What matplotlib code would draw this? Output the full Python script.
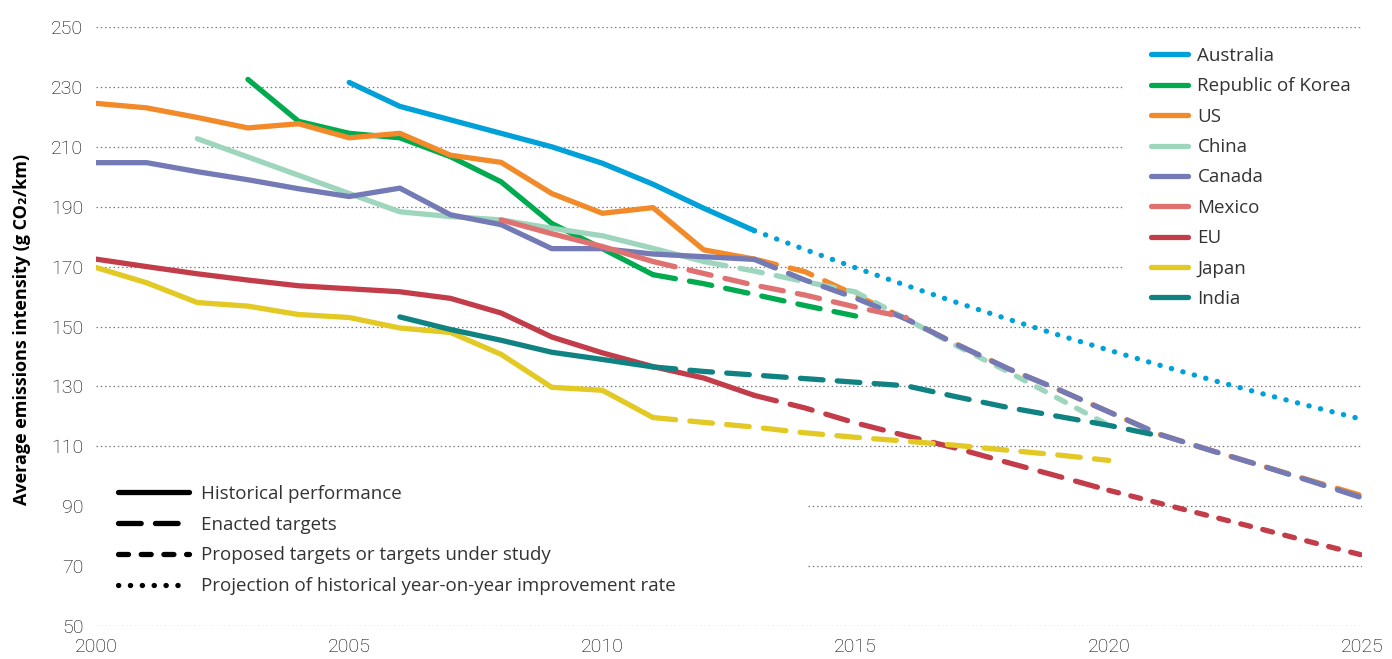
import matplotlib
matplotlib.use("Agg")
import matplotlib.pyplot as plt
from matplotlib.lines import Line2D

# ---------------- data ----------------
aus_hist_years = list(range(2005, 2014))
aus_hist = [231.5, 223.5, 219, 214.5, 210, 204.5, 197.5, 189.5, 182]
aus_proj_years = list(range(2013, 2026))
aus_proj = [182, 175.7, 169.6, 163.7, 158.0, 152.5, 147.2, 142.1, 137.1, 132.3, 127.7, 123.3, 119.0]

kor_hist_years = list(range(2003, 2012))
kor_hist = [232.5, 218.5, 214.5, 213, 206.7, 198.3, 184.4, 176, 167.3]
kor_enacted_years = list(range(2011, 2016))
kor_enacted = [167.3, 164.3, 160.7, 157, 153.5]

us_hist_years = list(range(2000, 2014))
us_hist = [224.5, 223, 219.8, 216.3, 217.7, 213, 214.5, 207.2, 204.8, 194.4, 187.8, 189.7, 175.6, 172.5]
us_enacted_years = list(range(2013, 2026))
us_enacted = [172.5, 168.3, 160.5, 152.5, 144, 136, 129, 121.5, 114, 108.7, 103.6, 98.5, 93.5]

chn_hist_years = list(range(2002, 2013))
chn_hist = [212.7, 206.6, 200.5, 194.4, 188.3, 186.7, 185.6, 182.8, 180.3, 176.1, 171.7]
chn_enacted_years = list(range(2012, 2016))
chn_enacted = [171.7, 168.5, 165, 161.5]
chn_proposed_years = list(range(2015, 2021))
chn_proposed = [161.5, 152.5, 143.5, 135, 126, 117]

can_hist_years = list(range(2000, 2014))
can_hist = [204.7, 204.7, 201.7, 199, 196, 193.4, 196.2, 187.3, 184, 176, 176, 174.2, 173.3, 172.4]
can_enacted_years = list(range(2013, 2026))
can_enacted = [172.4, 165.5, 159.5, 152.5, 144, 136, 129, 121.5, 114, 108.7, 103.6, 98.3, 92.8]

mex_hist_years = list(range(2008, 2012))
mex_hist = [185.6, 181, 176.7, 171.7]
mex_enacted_years = list(range(2011, 2017))
mex_enacted = [171.7, 167.7, 163.8, 160.5, 156.5, 153]

eu_hist_years = list(range(2000, 2014))
eu_hist = [172.5, 170, 167.6, 165.5, 163.6, 162.6, 161.6, 159.4, 154.5, 146.5, 141.2, 136.6, 132.8, 127]
eu_enacted_years = list(range(2013, 2021))
eu_enacted = [127, 122.8, 117.8, 113.5, 109.3, 104.6, 100, 95.3]
eu_proposed_years = list(range(2020, 2026))
eu_proposed = [95.3, 91, 86.7, 82.4, 78, 73.7]

jpn_hist_years = list(range(2000, 2012))
jpn_hist = [169.7, 164.6, 158, 156.8, 154, 153, 149.5, 148, 140.7, 129.7, 128.7, 119.6]
jpn_enacted_years = list(range(2011, 2021))
jpn_enacted = [119.6, 118, 116.4, 114.5, 113, 111.7, 110.3, 108.7, 107.1, 105.3]

ind_hist_years = list(range(2006, 2012))
ind_hist = [153.2, 149, 145.4, 141.4, 139, 136.5]
ind_enacted_years = list(range(2011, 2022))
ind_enacted = [136.5, 135, 133.8, 132.6, 131.4, 130.2, 126.5, 123, 120, 117, 113.5]

countries = ["Australia", "Republic of Korea", "US", "China", "Canada",
             "Mexico", "EU", "Japan", "India"]
colors = ["#00a0d8", "#00aa4f", "#f28a2a", "#9dd6bc", "#737ab6",
          "#e07171", "#c23c4a", "#e2c923", "#118282"]

style_labels = ["Historical performance", "Enacted targets",
                "Proposed targets or targets under study",
                "Projection of historical year-on-year improvement rate"]

x_ticks = [2000, 2005, 2010, 2015, 2020, 2025]
y_ticks = list(range(50, 251, 20))

# ---------------- styles ----------------
LW = 3.8
SOLID = "-"
ENACTED = (0, (4.3, 2.7))
PROPOSED = (0, (1.9, 2.4))
DOTTED = (0, (0.05, 2.2))
styles = [SOLID, ENACTED, PROPOSED, DOTTED]

series = [
    [(aus_hist_years, aus_hist, SOLID), (aus_proj_years, aus_proj, DOTTED)],
    [(kor_hist_years, kor_hist, SOLID), (kor_enacted_years, kor_enacted, ENACTED)],
    [(us_hist_years, us_hist, SOLID), (us_enacted_years, us_enacted, ENACTED)],
    [(chn_hist_years, chn_hist, SOLID), (chn_enacted_years, chn_enacted, ENACTED),
     (chn_proposed_years, chn_proposed, PROPOSED)],
    [(can_hist_years, can_hist, SOLID), (can_enacted_years, can_enacted, ENACTED)],
    [(mex_hist_years, mex_hist, SOLID), (mex_enacted_years, mex_enacted, ENACTED)],
    [(eu_hist_years, eu_hist, SOLID), (eu_enacted_years, eu_enacted, ENACTED),
     (eu_proposed_years, eu_proposed, PROPOSED)],
    [(jpn_hist_years, jpn_hist, SOLID), (jpn_enacted_years, jpn_enacted, ENACTED)],
    [(ind_hist_years, ind_hist, SOLID), (ind_enacted_years, ind_enacted, ENACTED)],
]

W, H = 1392, 659
fig = plt.figure(figsize=(W / 100, H / 100), dpi=100)
ax = fig.add_axes([96 / W, 1 - 626 / H, 1266 / W, 599 / H])
ax.set_xlim(2000, 2025)
ax.set_ylim(50, 250)
for s in ax.spines.values():
    s.set_visible(False)

TICK_FONT = "Roboto"
ax.set_xticks(x_ticks)
ax.set_yticks(y_ticks)
ax.tick_params(length=0, labelsize=14, colors="#000000")
ax.tick_params(axis="x", pad=9)
ax.tick_params(axis="y", pad=9)
for lab in ax.get_xticklabels() + ax.get_yticklabels():
    lab.set_fontfamily(TICK_FONT)
    lab.set_fontweight("light")

# gridlines (hidden where legends sit)
for y in y_ticks:
    xmin, xmax = 0.0, 1.0
    if 170 <= y <= 230:
        xmax = (1122 - 96) / 1266
    if y in (70, 90):
        xmin = (808 - 96) / 1266
    ax.axhline(y, xmin=xmin, xmax=xmax, color="#7a7a7a", lw=0.9,
               ls=(0, (1.2, 2.2)), zorder=0)

for i, segs in enumerate(series):
    for yrs, vals, ls in segs:
        ax.plot(yrs, vals, color=colors[i], lw=LW, ls=ls,
                solid_capstyle="round", dash_capstyle="round",
                solid_joinstyle="round", dash_joinstyle="round",
                zorder=2 + i)

# y label
fig.text(22 / W, 1 - 329 / H, "Average emissions intensity (g CO\u2082/km)",
         rotation=90, ha="center", va="center", fontsize=13,
         fontweight="bold", family=["Open Sans", "DejaVu Sans"], color="#000000")

LEG_FONT = "Open Sans"
# country legend
h1 = [Line2D([], [], color=c, lw=LW, solid_capstyle="round") for c in colors]
leg1 = ax.legend(h1, countries, loc="upper left",
                 bbox_to_anchor=(1150.6 / W, 1 - 47 / H), bbox_transform=fig.transFigure,
                 frameon=False, borderpad=0, borderaxespad=0,
                 prop={"family": LEG_FONT, "size": 13.5},
                 handlelength=2.0, handletextpad=0.5, labelspacing=0.66,
                 labelcolor="#333333")
ax.add_artist(leg1)

# style legend
h2 = [Line2D([], [], color="black", lw=LW, ls=s, solid_capstyle="round",
             dash_capstyle="round") for s in styles]
leg2 = ax.legend(h2, style_labels, loc="upper left",
                 bbox_to_anchor=(117.6 / W, 1 - 485 / H), bbox_transform=fig.transFigure,
                 frameon=False, borderpad=0, borderaxespad=0,
                 prop={"family": LEG_FONT, "size": 13.5},
                 handlelength=3.8, handletextpad=0.65, labelspacing=0.68,
                 labelcolor="#333333")

fig.savefig("out.png", dpi=100, facecolor="white")
